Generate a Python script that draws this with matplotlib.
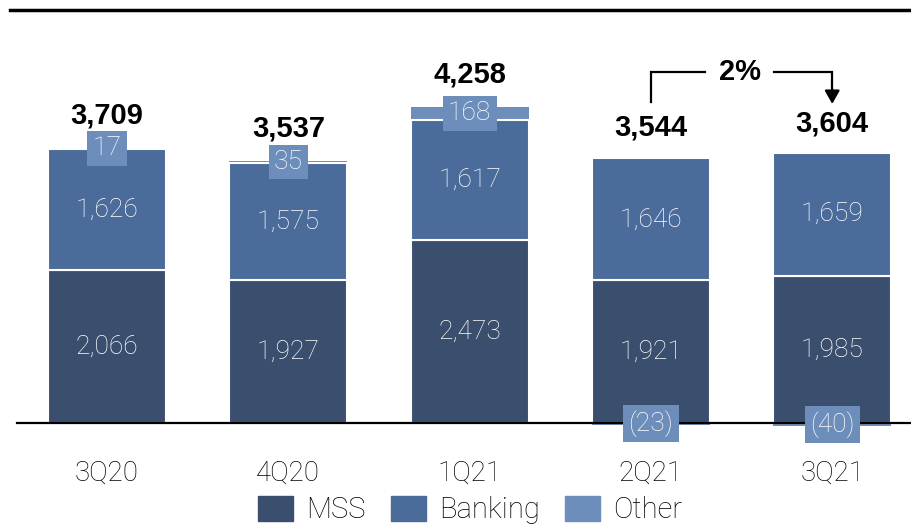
"""
Net revenues by division, 3Q20 - 3Q21 (stacked bars)
"""
import matplotlib
matplotlib.use("Agg")
import matplotlib.pyplot as plt
from matplotlib.lines import Line2D
from matplotlib.patches import Patch

# Veriler
quarters = ["3Q20", "4Q20", "1Q21", "2Q21", "3Q21"]
mss = [2066, 1927, 2473, 1921, 1985]
banking = [1626, 1575, 1617, 1646, 1659]
other = [17, 35, 168, -23, -40]
totals = [3709, 3537, 4258, 3544, 3604]
change_label = "2%"

# Renkler
c_mss = "#3a4e6d"
c_bank = "#4b6b9a"
c_other = "#6d8ebb"

plt.rcParams["font.family"] = ["Roboto", "DejaVu Sans"]
bold_font = ["Liberation Sans", "DejaVu Sans"]

fig = plt.figure(figsize=(9.12, 5.24), dpi=100)
W, H = 912, 524

# eksen: y=0 -> 101 px from bottom, 0.0742 px/unit
scale = 0.0742
y_lo, y_hi = -200, 5500
base_px = 101
ax = fig.add_axes([0, (base_px + y_lo * scale) / H, 1, (y_hi - y_lo) * scale / H])
ax.set_ylim(y_lo, y_hi)
ax.set_xlim(-0.59, 4.44)
for s in ax.spines.values():
    s.set_visible(False)
ax.set_yticks([])

x = list(range(len(quarters)))
width = 0.65

ax.bar(x, mss, width, color=c_mss, edgecolor="white", linewidth=1.5, zorder=2)
ax.bar(x, banking, width, bottom=mss, color=c_bank, edgecolor="white",
       linewidth=1.5, zorder=2)
other_bottom = [m + b if o > 0 else 0 for m, b, o in zip(mss, banking, other)]
ax.bar(x, other, width, bottom=other_bottom, color=c_other, linewidth=0,
       zorder=1)

# taban çizgisi
ax.axhline(0, xmin=17 / W, xmax=1, color="black", linewidth=1.6, zorder=3)

# segment etiketleri
lbl = dict(ha="center", va="center", color="white", fontsize=19,
           fontweight="light", zorder=5)
for i in x:
    ax.text(i, mss[i] / 2, f"{mss[i]:,}", **lbl)
    ax.text(i, mss[i] + banking[i] / 2, f"{banking[i]:,}", **lbl)
    o = other[i]
    txt = f"{o:,}" if o > 0 else f"({-o:,})"
    ax.text(i, other_bottom[i] + o / 2, txt,
            bbox=dict(boxstyle="square,pad=0.2", fc=c_other, ec="none"), **lbl)
    ax.text(i, totals[i] + 250, f"{totals[i]:,}", ha="center", va="bottom",
            fontsize=21, fontweight="bold", family=bold_font, color="black",
            zorder=5)

# 2% oku
y_br = 4730
ax.plot([3, 3, 3.3], [4330, y_br, y_br], color="black", lw=1.6,
        solid_joinstyle="miter")
ax.plot([3.68, 4, 4], [y_br, y_br, 4480], color="black", lw=1.6,
        solid_joinstyle="miter")
ax.annotate("", xy=(4, 4300), xytext=(4, 4500),
            arrowprops=dict(arrowstyle="-|>,head_length=0.8,head_width=0.45",
                            color="black", lw=1.6, shrinkA=0, shrinkB=0))
ax.text(3.49, y_br, change_label, ha="center", va="center", fontsize=21,
        fontweight="bold", family=bold_font)

# x etiketleri
ax.set_xticks(x)
ax.set_xticklabels(quarters, fontsize=20, fontweight="light", color="black")
ax.tick_params(axis="x", length=0, pad=16)

# üst çizgi
fig.add_artist(Line2D([10 / W, 1], [1 - 10 / H, 1 - 10 / H], color="black",
                      linewidth=2.5))

# lejant
handles = [Patch(color=c_mss, label="MSS"),
           Patch(color=c_bank, label="Banking"),
           Patch(color=c_other, label="Other")]
fig.legend(handles=handles, loc="center", bbox_to_anchor=(470 / W, 14 / H),
           ncol=3, frameon=False, handlelength=1.2, handleheight=0.95,
           handletextpad=0.45, columnspacing=0.85,
           prop={"weight": "light", "size": 21}, labelcolor="black")

fig.savefig("out.png", dpi=100)
